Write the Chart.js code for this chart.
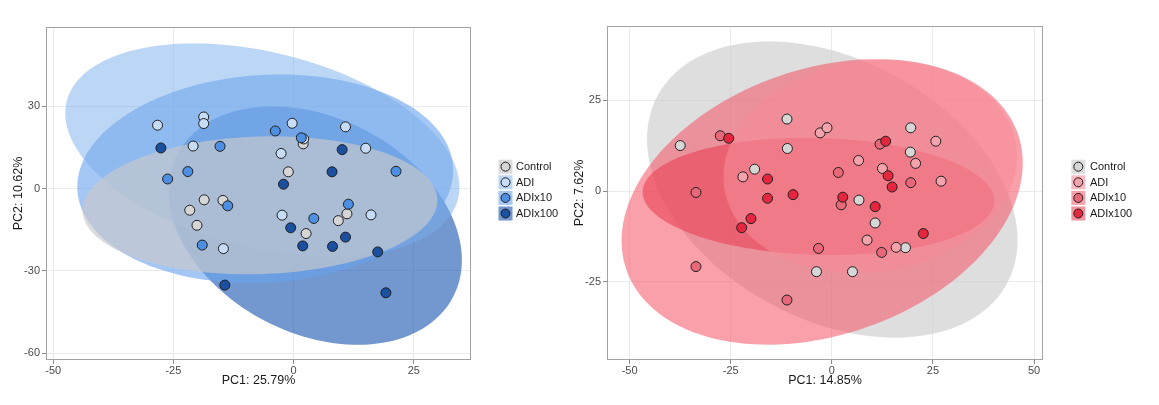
<!DOCTYPE html>
<html>
<head>
<meta charset="utf-8">
<script src="https://cdn.jsdelivr.net/npm/chart.js@4.4.1/dist/chart.umd.min.js"></script>
<style>
  html, body { margin: 0; padding: 0; background: #fff; }
  #wrap { position: relative; width: 1159px; height: 405px; overflow: hidden; }
  canvas { position: absolute; top: 0; }
  #pcaBlue { left: 0; }
  #pcaRed { left: 560px; }
</style>
</head>
<body>
<div id="wrap">
  <canvas id="pcaBlue" width="580" height="405"></canvas>
  <canvas id="pcaRed" width="599" height="405"></canvas>
</div>
<script>
// Group names, same in both panels
const groups = ["Control", "ADI", "ADIx10", "ADIx100"];

// Left panel scores [PC1, PC2]
const blueControl = [[2.0, 16.3], [-1.1, 6.1], [-18.6, -4.1], [-14.7, -4.3], [-21.6, -7.9],
  [-20.1, -13.4], [2.6, -16.4], [9.3, -11.7], [11.1, -9.2]];
const blueADI = [[-28.3, 23.1], [-18.7, 26.1], [-18.7, 23.7], [-20.9, 15.5], [-0.3, 23.8],
  [10.8, 22.5], [-2.6, 12.8], [15.0, 14.7], [2.1, 18.1], [-2.4, -9.7], [16.1, -9.6], [-14.6, -21.9]];
const blueADIx10 = [[-3.8, 21.0], [-15.3, 15.4], [-22.0, 6.2], [-26.2, 3.5], [-13.7, -6.3],
  [-19.0, -20.6], [4.2, -10.9], [11.4, -5.7], [21.3, 6.3], [1.6, 18.5]];
const blueADIx100 = [[-27.6, 14.8], [-2.1, 1.6], [8.0, 6.1], [10.1, 14.2], [-0.6, -14.3],
  [1.9, -20.9], [8.1, -21.1], [10.8, -17.7], [17.5, -23.1], [-14.3, -35.2], [19.2, -38.0]];

// Right panel scores [PC1, PC2]
const redControl = [[-37.5, 12.5], [-11.1, 19.8], [-11.0, 11.7], [-19.1, 6.0], [6.7, -2.5],
  [19.5, 17.4], [19.4, 10.7], [10.7, -8.8], [18.2, -15.6], [-3.8, -22.2], [5.1, -22.2]];
const redADI = [[-22.0, 3.9], [-2.9, 16.0], [-1.2, 17.4], [6.6, 8.4], [12.5, 6.2],
  [20.7, 7.6], [25.7, 13.7], [27.0, 2.7], [8.7, -13.5], [15.9, -15.5]];
const redADIx10 = [[-27.6, 15.2], [-33.6, -0.4], [-33.6, -20.8], [-11.1, -30.0], [1.6, 5.1],
  [2.3, -3.8], [-3.3, -15.8], [19.5, 2.3], [12.3, -16.9], [11.9, 12.9]];
const redADIx100 = [[-25.5, 14.5], [-15.9, 3.3], [-15.9, -2.0], [-9.6, -1.0], [-20.0, -7.6],
  [-22.3, -10.1], [2.7, -1.7], [10.7, -4.3], [13.9, 4.2], [14.9, 1.1], [22.6, -11.7], [13.3, 13.7]];

// Ellipses: [centre PC1, centre PC2, half width, PC2 shift at widest point, conjugate half height]
const blueEllControl = [-7.0, -6.1, 36.9, 1.8, 25.1];
const blueEllADI = [-6.5, 14.0, 41.0, -13.5, 36.5];
const blueEllADIx10 = [-5.9, 3.6, 39.1, 3.0, 37.9];
const blueEllADIx100 = [4.5, -13.5, 30.5, -12.6, 41.6];
const redEllControl = [0.1, 0.4, 45.8, -13.9, 38.3];
const redEllADI = [9.5, 6.7, 36.3, 2.8, 29.2];
const redEllADIx10 = [-2.4, -3.0, 49.6, 10.7, 37.8];
const redEllADIx100 = [-3.3, -1.5, 43.5, -1.2, 16.1];

// Axis ticks and titles
const blueXTicks = [-50, -25, 0, 25];
const blueYTicks = [-60, -30, 0, 30];
const redXTicks = [-50, -25, 0, 25, 50];
const redYTicks = [-25, 0, 25];
const blueTitles = ["PC1: 25.79%", "PC2: 10.62%"];
const redTitles = ["PC1: 14.85%", "PC2: 7.62%"];

Chart.defaults.font.family = "'Liberation Sans', Arial, sans-serif";

// ellipses are drawn under the points, in the given layer order
function ellipseLayers(id, layers) {
  return {
    id: id,
    beforeDatasetsDraw(chart) {
      const { ctx, chartArea: a, scales: { x, y } } = chart;
      ctx.save();
      ctx.beginPath();
      ctx.rect(a.left, a.top, a.width, a.height);
      ctx.clip();
      layers.forEach(([shape, fill]) => {
        const [cx, cy, rx, skew, ry] = shape;
        ctx.beginPath();
        for (let i = 0; i <= 144; i++) {
          const t = (i / 144) * Math.PI * 2;
          const px = x.getPixelForValue(cx + rx * Math.cos(t));
          const py = y.getPixelForValue(cy + skew * Math.cos(t) + ry * Math.sin(t));
          if (i === 0) ctx.moveTo(px, py); else ctx.lineTo(px, py);
        }
        ctx.closePath();
        ctx.fillStyle = fill;
        ctx.fill();
      });
      ctx.restore();
    }
  };
}

// ggplot style legend: shaded key square with a point in it
function keyLegend(id, spec) {
  return {
    id: id,
    afterDraw(chart) {
      const ctx = chart.ctx;
      ctx.save();
      groups.forEach((name, i) => {
        const y = spec.rows[i];
        const s = spec.size;
        ctx.fillStyle = spec.keyFills[i];
        ctx.fillRect(spec.x - s / 2, y - s / 2, s, s);
        ctx.beginPath();
        ctx.arc(spec.x, y, 4.5, 0, Math.PI * 2);
        ctx.fillStyle = spec.pointFills[i];
        ctx.fill();
        ctx.lineWidth = 1;
        ctx.strokeStyle = "#1f1f1f";
        ctx.stroke();
        ctx.fillStyle = "#1a1a1a";
        ctx.font = "11px 'Liberation Sans', Arial, sans-serif";
        ctx.textBaseline = "middle";
        ctx.fillText(name, spec.textX, y + 0.5);
      });
      ctx.restore();
    }
  };
}

const panelBorder = {
  id: "panelBorder",
  afterDatasetsDraw(chart) {
    const { ctx, chartArea: a } = chart;
    ctx.save();
    ctx.strokeStyle = "#a3a3a3";
    ctx.lineWidth = 1;
    ctx.strokeRect(Math.round(a.left) + 0.5, Math.round(a.top) + 0.5,
      Math.round(a.width) - 1, Math.round(a.height) - 1);
    ctx.restore();
  }
};

function axis(min, max, ticks, title, isX, titlePad, size) {
  return {
    type: "linear",
    min: min,
    max: max,
    afterBuildTicks: s => { s.ticks = ticks.map(v => ({ value: v })); },
    afterFit: s => { if (isX) s.height = size; else s.width = size; },
    ticks: { color: "#4d4d4d", font: { size: 11 }, padding: isX ? 0 : 2, autoSkip: false, maxRotation: 0 },
    grid: { color: "#ebebeb", tickLength: 4, tickColor: "#8a8a8a" },
    border: { display: false },
    title: { display: true, text: title, color: "#1a1a1a", font: { size: 12.5 }, padding: titlePad }
  };
}

function pcaChart(canvasId, series, pointFills, scales, padding, plugins) {
  return new Chart(document.getElementById(canvasId), {
    type: "scatter",
    data: {
      datasets: series.map((pts, i) => ({
        label: groups[i],
        data: pts.map(p => ({ x: p[0], y: p[1] })),
        backgroundColor: pointFills[i],
        borderColor: "#1f1f1f",
        borderWidth: 1,
        pointRadius: 5,
        pointHoverRadius: 5,
        order: -i
      }))
    },
    options: {
      responsive: false,
      animation: false,
      layout: { padding: padding },
      plugins: { legend: { display: false }, tooltip: { enabled: false } },
      scales: scales
    },
    plugins: plugins.concat([panelBorder])
  });
}

const legendRows = [166.7, 182.3, 197.9, 213.5];

// Left panel (blues)
const blueFills = ["rgba(200,200,204,0.66)", "rgba(121,173,235,0.5)", "rgba(105,162,238,0.6)", "rgba(20,83,175,0.6)"];
const bluePoints = ["#d6d6d6", "#c6dcf7", "#4d8fe3", "#1b4f9f"];
pcaChart("pcaBlue",
  [blueControl, blueADI, blueADIx10, blueADIx100], bluePoints,
  {
    x: axis(-51.5, 36.9, blueXTicks, blueTitles[0], true, { top: 0, bottom: 16.5 }, 45),
    y: axis(-62.5, 58.9, blueYTicks, blueTitles[1], false, { top: 10.8, bottom: 0 }, 46)
  },
  { top: 27, right: 109, bottom: 0, left: 0 },
  [
    ellipseLayers("blueEllipses", [
      [blueEllADIx100, blueFills[3]], [blueEllADIx10, blueFills[2]],
      [blueEllADI, blueFills[1]], [blueEllControl, blueFills[0]]
    ]),
    keyLegend("blueLegend", {
      x: 505.5, textX: 516, size: 14, rows: legendRows,
      keyFills: blueFills, pointFills: bluePoints
    })
  ]);

// Right panel (reds)
const redFills = ["rgba(200,200,200,0.6)", "rgba(246,140,152,0.6)", "rgba(244,82,100,0.55)", "rgba(233,58,79,0.55)"];
const redPoints = ["#d6d6d6", "#f4a3ad", "#e8687a", "#e5263e"];
pcaChart("pcaRed",
  [redControl, redADI, redADIx10, redADIx100], redPoints,
  {
    x: axis(-55.6, 52.2, redXTicks, redTitles[0], true, { top: 0, bottom: 16.5 }, 45),
    y: axis(-46.5, 45.4, redYTicks, redTitles[1], false, { top: 12.5, bottom: 0 }, 47)
  },
  { top: 26, right: 116, bottom: 0, left: 0 },
  [
    ellipseLayers("redEllipses", [
      [redEllControl, redFills[0]], [redEllADIx10, redFills[2]],
      [redEllADIx100, redFills[3]], [redEllADI, redFills[1]]
    ]),
    keyLegend("redLegend", {
      x: 518.3, textX: 530, size: 14, rows: legendRows,
      keyFills: redFills, pointFills: redPoints
    })
  ]);
</script>
</body>
</html>
